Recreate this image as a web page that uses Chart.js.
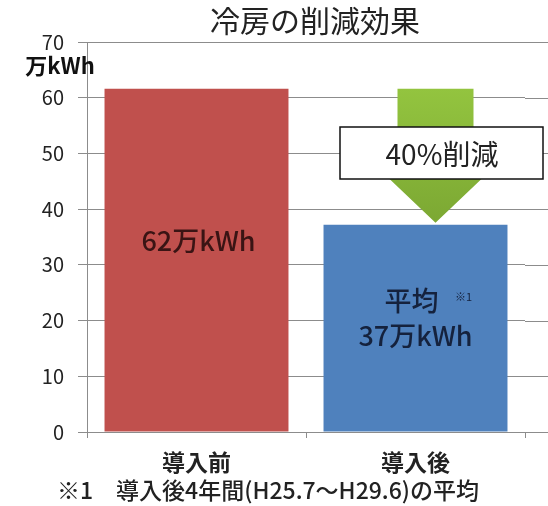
<!DOCTYPE html>
<html lang="ja">
<head>
  <meta charset="UTF-8">
  <title>冷房の削減効果</title>
  <script src="https://cdn.jsdelivr.net/npm/chart.js"></script>
  <style>
    html, body { margin: 0; padding: 0; background: #fff; }
    #wrap { width: 548px; height: 506px; position: relative; }
  </style>
</head>
<body>
  <div id="wrap"><canvas id="chart-1" width="548" height="506"></canvas></div>

  <script>
    // data
    const categories = ['導入前', '導入後'];
    const usage = [61.6, 37.2];           // 万kWh
    const barColors = ['#C0504D', '#4F81BD'];
    const yTicks = [0, 10, 20, 30, 40, 50, 60, 70];

    const JP = '"Noto Sans CJK JP", "Noto Sans", sans-serif';
    const gridColor = '#8c8c8c';

    // text, arrow and the extra bits the chart itself doesn't draw
    const extras = {
      id: 'extras',
      afterDraw(chart) {
        const { ctx, chartArea: a, scales: { x, y } } = chart;
        ctx.save();

        // gridlines run on to the right edge
        ctx.strokeStyle = gridColor;
        ctx.lineWidth = 1;
        yTicks.forEach(v => {
          const py = Math.round(y.getPixelForValue(v)) + 0.5;
          ctx.beginPath();
          ctx.moveTo(a.right, py);
          ctx.lineTo(chart.width, py);
          ctx.stroke();
        });

        // title
        ctx.fillStyle = '#222';
        ctx.textAlign = 'center';
        ctx.textBaseline = 'middle';
        ctx.font = '30px ' + JP;
        ctx.fillText('冷房の削減効果', 315, 21);

        // unit
        ctx.font = 'bold 22px ' + JP;
        ctx.fillStyle = '#111';
        ctx.fillText('万kWh', 60, 66);

        // arrow from before to after
        const xc = x.getPixelForValue(1) + 20;
        const top = y.getPixelForValue(usage[0]);
        const tip = y.getPixelForValue(usage[1]) - 2;
        const base = top + (tip - top) * 0.56;
        const g = ctx.createLinearGradient(0, top, 0, tip);
        g.addColorStop(0, '#93C43F');
        g.addColorStop(1, '#7CA833');
        ctx.fillStyle = g;
        ctx.beginPath();
        ctx.moveTo(xc - 38, top);
        ctx.lineTo(xc + 38, top);
        ctx.lineTo(xc + 38, base);
        ctx.lineTo(xc + 62, base);
        ctx.lineTo(xc, tip);
        ctx.lineTo(xc - 62, base);
        ctx.lineTo(xc - 38, base);
        ctx.closePath();
        ctx.fill();

        // 40% box
        ctx.fillStyle = '#fff';
        ctx.fillRect(340, 127, 203, 52);
        ctx.strokeStyle = '#111';
        ctx.lineWidth = 1.5;
        ctx.strokeRect(340, 127, 203, 52);
        ctx.fillStyle = '#222';
        ctx.font = '28px ' + JP;
        ctx.fillText('40%削減', 442, 154);

        // bar labels
        const x0 = x.getPixelForValue(0);
        const x1 = x.getPixelForValue(1);
        ctx.font = '500 27px ' + JP;
        ctx.fillStyle = '#3a1414';
        ctx.fillText('62万kWh', x0 + 2, 241);

        ctx.fillStyle = '#15223d';
        ctx.fillText('平均', x1 - 4, 301);
        ctx.font = '11px ' + JP;
        ctx.fillText('※1', x1 + 48, 297);
        ctx.font = '500 27px ' + JP;
        ctx.fillText('37万kWh', x1, 336);

        // footnote
        ctx.fillStyle = '#222';
        ctx.font = '500 23px ' + JP;
        ctx.fillText('※1　導入後4年間(H25.7～H29.6)の平均', 268, 490);

        ctx.restore();
      }
    };

    const chart = new Chart(document.getElementById('chart-1'), {
      type: 'bar',
      data: {
        labels: categories,
        datasets: [{
          data: usage,
          backgroundColor: barColors,
          borderWidth: 0,
          barPercentage: 0.84,
          categoryPercentage: 1
        }]
      },
      options: {
        responsive: false,
        animation: false,
        devicePixelRatio: 1,
        layout: { padding: { top: 42, right: 23, left: 0, bottom: 0 } },
        plugins: {
          legend: { display: false },
          tooltip: { enabled: false },
          title: { display: false }
        },
        scales: {
          x: {
            offset: true,
            grid: { offset: true, drawOnChartArea: false, drawTicks: true, tickLength: 6, color: gridColor },
            border: { color: gridColor },
            ticks: {
              padding: 10,
              color: '#222',
              font: { family: JP, size: 23, weight: 'bold' }
            },
            afterFit: s => { s.height = 74; }
          },
          y: {
            min: 0,
            max: 70,
            afterBuildTicks: s => { s.ticks = yTicks.map(v => ({ value: v })); },
            grid: { color: gridColor, tickLength: 9 },
            border: { color: gridColor },
            ticks: {
              padding: 14,
              color: '#222',
              font: { family: JP, size: 20 }
            },
            afterFit: s => { s.width = 87; }
          }
        }
      },
      plugins: [extras]
    });
  </script>
</body>
</html>
